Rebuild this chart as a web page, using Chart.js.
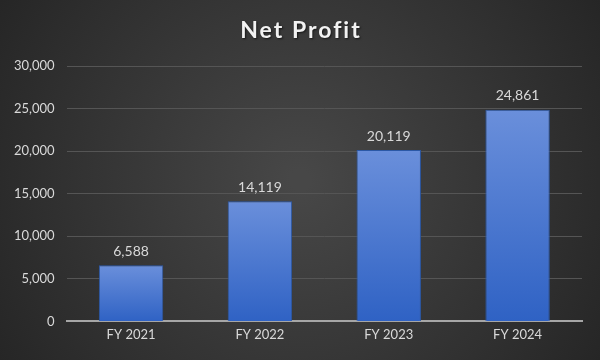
<!DOCTYPE html>
<html>
<head>
<meta charset="utf-8">
<script src="https://cdn.jsdelivr.net/npm/chart.js@4"></script>
<style>
    html, body { margin: 0; padding: 0; background: #333; }
    #wrap { width: 600px; height: 360px; }
</style>
</head>
<body>
<div id="wrap"><canvas id="profitChart" width="600" height="360"></canvas></div>
<script>
// Chart data
const years = ['FY 2021', 'FY 2022', 'FY 2023', 'FY 2024'];
const netProfit = [6588, 14119, 20119, 24861];
const yTicks = [0, 5000, 10000, 15000, 20000, 25000, 30000];
const chartTitle = 'Net Profit';

const fmt = v => v.toLocaleString('en-US');

// Dark radial background like the office chart style
const backgroundPlugin = {
    id: 'bg',
    beforeDraw(chart) {
        const ctx = chart.ctx;
        const w = chart.width, h = chart.height;
        const g = ctx.createRadialGradient(w / 2, h / 2, 10, w / 2, h / 2, w * 0.6);
        g.addColorStop(0, '#474747');
        g.addColorStop(1, '#252525');
        ctx.save();
        ctx.fillStyle = g;
        ctx.fillRect(0, 0, w, h);
        ctx.restore();
    }
};

// Spaced-out title drawn by hand (the built-in title has no letter spacing)
const spacedTitle = {
    id: 'spacedTitle',
    afterDraw(chart) {
        const ctx = chart.ctx;
        ctx.save();
        ctx.font = 'bold 23px Lato, "Open Sans", sans-serif';
        ctx.letterSpacing = '2px';
        ctx.fillStyle = '#f2f2f2';
        ctx.textAlign = 'center';
        ctx.textBaseline = 'middle';
        ctx.shadowColor = 'rgba(0,0,0,0.6)';
        ctx.shadowOffsetX = 1;
        ctx.shadowOffsetY = 1;
        ctx.shadowBlur = 2;
        ctx.fillText(chartTitle, chart.width / 2 + 1, 31);
        ctx.restore();
    }
};

// Value labels above each bar
const valueLabels = {
    id: 'valueLabels',
    afterDatasetsDraw(chart) {
        const ctx = chart.ctx;
        ctx.save();
        ctx.font = '14px Lato, "Open Sans", sans-serif';
        ctx.fillStyle = '#d9d9d9';
        ctx.textAlign = 'center';
        ctx.textBaseline = 'bottom';
        chart.getDatasetMeta(0).data.forEach((bar, i) => {
            ctx.fillText(fmt(netProfit[i]), bar.x, bar.y - 7);
        });
        ctx.restore();
    }
};

// gradient per bar, light at the top of each bar
const barFill = (context) => {
    const chart = context.chart;
    const y = chart.scales.y;
    if (!chart.chartArea || !y || context.raw == null) return '#4472c4';
    const top = y.getPixelForValue(context.raw);
    const bottom = y.getPixelForValue(0);
    if (!isFinite(top) || !isFinite(bottom) || top === bottom) return '#4472c4';
    const g = chart.ctx.createLinearGradient(0, top, 0, bottom);
    g.addColorStop(0, '#6a8fdb');
    g.addColorStop(1, '#2f62c4');
    return g;
};

const ctx = document.getElementById('profitChart');
new Chart(ctx, {
    type: 'bar',
    data: {
        labels: years,
        datasets: [{
            label: 'Net Profit',
            data: netProfit,
            backgroundColor: barFill,
            borderColor: '#2b58a6',
            borderWidth: 1,
            categoryPercentage: 1,
            barPercentage: 0.5
        }]
    },
    options: {
        responsive: false,
        animation: false,
        layout: { padding: { left: 2, right: 18, top: 66, bottom: 11 } },
        plugins: {
            legend: { display: false },
            tooltip: { enabled: false },
            title: { display: false }
        },
        scales: {
            x: {
                grid: { display: false, drawTicks: false },
                border: { color: '#a6a6a6', width: 2 },
                ticks: {
                    color: '#d9d9d9',
                    font: { family: 'Lato, "Open Sans", sans-serif', size: 13 },
                    padding: 6
                }
            },
            y: {
                min: 0,
                max: 30000,
                afterBuildTicks(axis) {
                    axis.ticks = yTicks.map(v => ({ value: v }));
                },
                grid: { color: '#555555', lineWidth: 1, drawTicks: false },
                border: { display: false },
                ticks: {
                    color: '#d9d9d9',
                    font: { family: 'Lato, "Open Sans", sans-serif', size: 13 },
                    padding: 12,
                    callback: v => fmt(v)
                }
            }
        }
    },
    plugins: [backgroundPlugin, valueLabels, spacedTitle]
});
</script>
</body>
</html>
